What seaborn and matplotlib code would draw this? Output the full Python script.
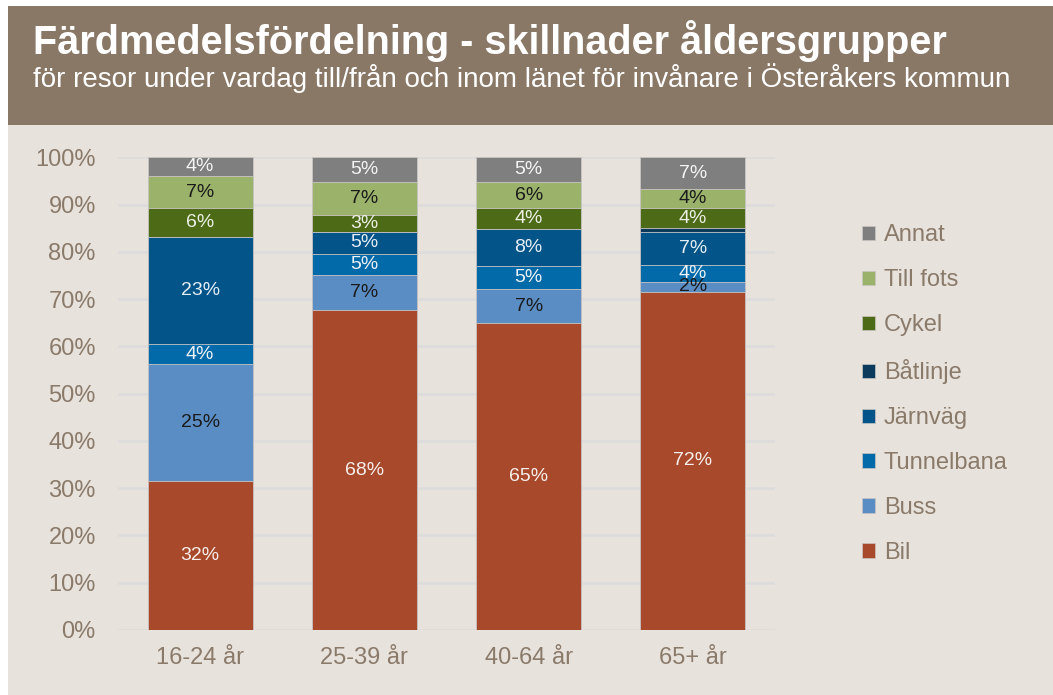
import matplotlib
matplotlib.use("Agg")
import matplotlib.pyplot as plt
from matplotlib.patches import Patch, Rectangle
import numpy as np
import pandas as pd
import seaborn as sns

# data (percent of trips)
groups = ["16-24 år", "25-39 år", "40-64 år", "65+ år"]
modes = ["Bil", "Buss", "Tunnelbana", "Järnväg", "Båtlinje", "Cykel", "Till fots", "Annat"]
bil = [31.6, 67.6, 64.9, 71.6]
buss = [24.7, 7.4, 7.2, 2.0]
tunnelbana = [4.1, 4.6, 4.9, 3.6]
jarnvag = [22.8, 4.6, 7.8, 6.9]
batlinje = [0.0, 0.1, 0.1, 1.0]
cykel = [6.1, 3.4, 4.3, 4.1]
till_fots = [6.7, 7.0, 5.6, 4.0]
annat = [4.0, 5.3, 5.2, 6.8]

colors = {
    "Bil": "#a9492b",
    "Buss": "#5b8dc5",
    "Tunnelbana": "#026aa8",
    "Järnväg": "#035489",
    "Båtlinje": "#0c3a5c",
    "Cykel": "#4d6b17",
    "Till fots": "#9ab26a",
    "Annat": "#7f7f7f",
}
label_colors = {
    "Bil": "#f5f0ec",
    "Buss": "#1a1a1a",
    "Tunnelbana": "#eef2f6",
    "Järnväg": "#e6eef5",
    "Båtlinje": "#ffffff",
    "Cykel": "#eef0e6",
    "Till fots": "#1a1a1a",
    "Annat": "#f5f5f5",
}

BG = "#e8e2dc"
HEADER = "#8a7866"
TXT = "#8a7a6a"

wide = pd.DataFrame(
    {"Bil": bil, "Buss": buss, "Tunnelbana": tunnelbana, "Järnväg": jarnvag,
     "Båtlinje": batlinje, "Cykel": cykel, "Till fots": till_fots, "Annat": annat},
    index=groups,
)
cum = wide.cumsum(axis=1)

plt.rcParams["font.family"] = ["Liberation Sans", "DejaVu Sans"]

fig = plt.figure(figsize=(10.53, 6.95), dpi=100, facecolor="white")
fig.patches.append(Rectangle((8 / 1053, 0), 1, 1 - 6 / 695, transform=fig.transFigure,
                             facecolor=BG, edgecolor="none", zorder=-2))
fig.patches.append(Rectangle((8 / 1053, 1 - 125 / 695), 1, (125 - 6) / 695,
                             transform=fig.transFigure, facecolor=HEADER,
                             edgecolor="none", zorder=-1))

fig.text(33 / 1053, 1 - 54 / 695, "Färdmedelsfördelning - skillnader åldersgrupper",
         color="white", fontsize=28.5, fontweight="bold", va="baseline", ha="left")
fig.text(33 / 1053, 1 - 87 / 695,
         "för resor under vardag till/från och inom länet för invånare i Österåkers kommun",
         color="white", fontsize=20, va="baseline", ha="left")

ax = fig.add_axes([118 / 1053, 1 - 630 / 695, 657 / 1053, (630 - 157.3) / 695])
ax.patch.set_alpha(0)

# stack by overlaying cumulative totals, top layer first
for mode in reversed(modes):
    d = pd.DataFrame({"group": groups, "value": cum[mode].values})
    sns.barplot(data=d, x="group", y="value", color=colors[mode], width=0.64,
                saturation=1, edgecolor="#c9c5c2", linewidth=0.6, ax=ax, zorder=3)

# segment labels
for i, g in enumerate(groups):
    for mode in modes:
        v = wide.loc[g, mode]
        if v < 1.5:
            continue
        mid = cum.loc[g, mode] - v / 2
        ax.text(i, mid, f"{round(v):d}%", ha="center", va="center",
                fontsize=14, color=label_colors[mode], zorder=5)

ax.set_ylim(0, 100)
ax.set_xlim(-0.5, 3.5)
ax.set_yticks(np.arange(0, 101, 10))
ax.set_yticklabels([f"{t}%" for t in range(0, 101, 10)])
ax.yaxis.grid(True, color="#dcdcdc", linewidth=1.8, zorder=0)
ax.set_axisbelow(True)
for s in ax.spines.values():
    s.set_visible(False)
ax.tick_params(axis="y", length=0, pad=16, labelsize=17, labelcolor=TXT)
ax.tick_params(axis="x", length=0, pad=12, labelsize=17, labelcolor=TXT)
ax.set_xlabel("")
ax.set_ylabel("")

handles = [Patch(facecolor=colors[m], edgecolor="#c9c5c2", linewidth=0.5) for m in reversed(modes)]
fig.legend(handles, list(reversed(modes)), loc="upper left",
           bbox_to_anchor=(853 / 1053, 1 - 215 / 695), frameon=False,
           fontsize=17, labelcolor=TXT, handlelength=0.55, handleheight=0.55,
           handletextpad=0.35, labelspacing=0.97, borderaxespad=0)

fig.savefig("out.png", dpi=100, facecolor=fig.get_facecolor())
